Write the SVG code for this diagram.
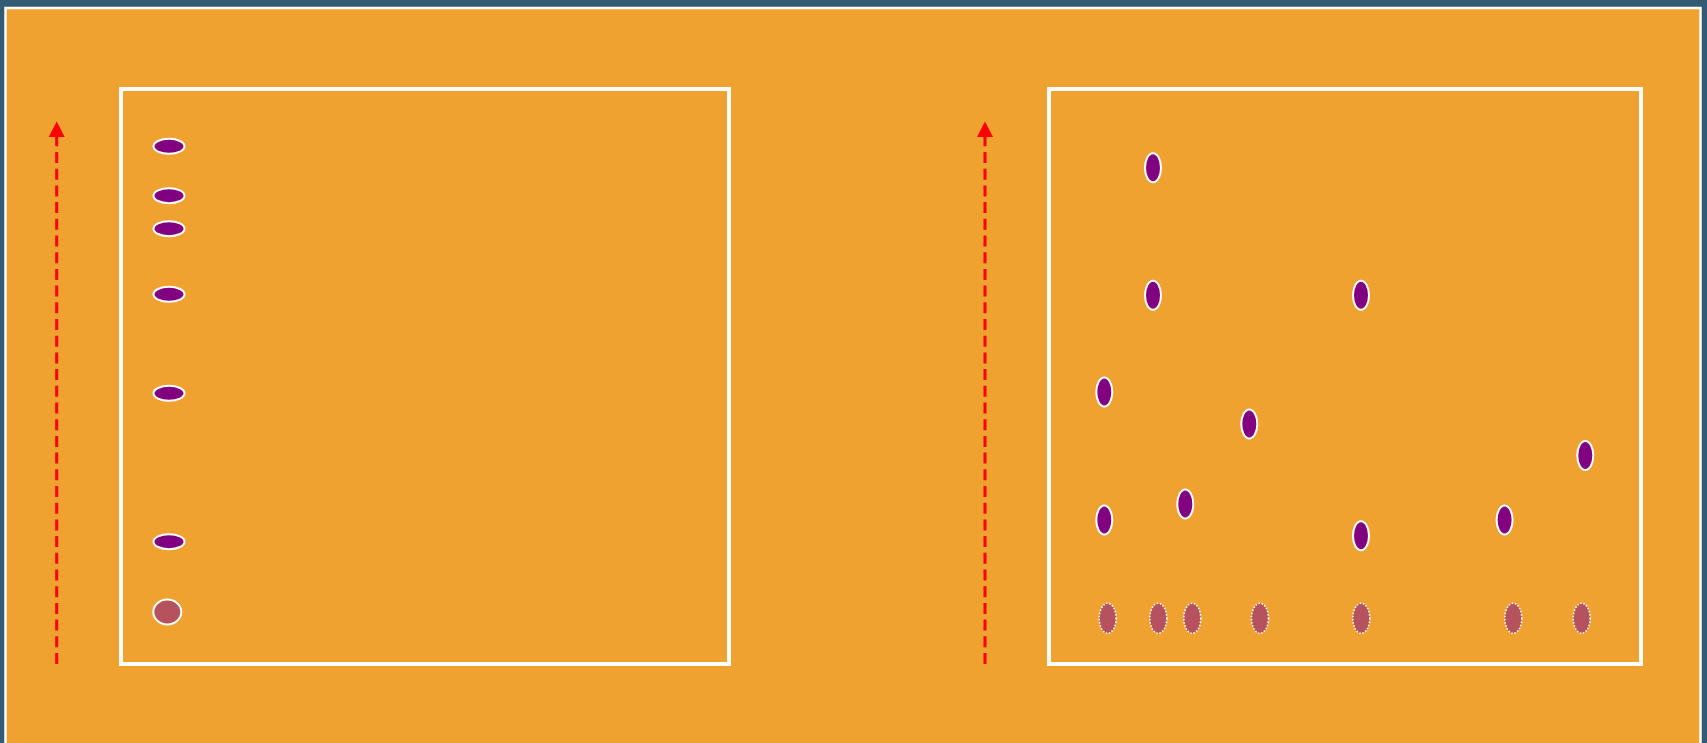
<svg xmlns="http://www.w3.org/2000/svg" width="1707" height="743" viewBox="0 0 1707 743">
  <style>
    .field { fill: none; stroke: #ffffff; stroke-width: 4; }
    .p-h { fill: #800080; stroke: #ffffff; stroke-width: 2; }
    .p-v { fill: #800080; stroke: #ffffff; stroke-width: 2; }
    .ghost { fill: #B5525E; stroke: #ffffff; stroke-width: 1.6; stroke-dasharray: 1.6 1.6; }
    .start { fill: #B5525E; stroke: #ffffff; stroke-width: 2; }
    .dir { fill: none; stroke: #ff0000; stroke-width: 3; stroke-dasharray: 11 5.7; }
  </style>
  <defs>
    <marker id="ah" viewBox="0 0 16 16" refX="8" refY="16" markerWidth="16" markerHeight="16" markerUnits="userSpaceOnUse" orient="auto-start-reverse">
      <path d="M0,16 L8,0 L16,16 Z" fill="#ff0000"/>
    </marker>
  </defs>
  <rect x="0" y="0" width="1707" height="743" fill="#335B74"/>
  <rect x="5.5" y="8" width="1695" height="745" fill="#EFA22F" stroke="#ffffff" stroke-width="2.5"/>

  <g id="field-left"><rect class="field" x="121" y="89" width="608" height="575"/></g>
  <g id="field-right"><rect class="field" x="1049" y="89" width="592" height="575"/></g>

  <g id="connectors">
    <path class="dir" d="M56.7,664 V137"/>
    <path d="M48.7,137 L56.7,121.5 L64.7,137 Z" fill="#ff0000"/>
    <path class="dir" d="M985,664 V137"/>
    <path d="M977,137 L985,121.5 L993,137 Z" fill="#ff0000"/>
  </g>

  <g id="left-players">
    <ellipse id="l1" class="p-h" cx="169" cy="146.3" rx="15.5" ry="7.5"/>
    <ellipse id="l2" class="p-h" cx="169" cy="195.7" rx="15.5" ry="7.5"/>
    <ellipse id="l3" class="p-h" cx="169" cy="228.7" rx="15.5" ry="7.5"/>
    <ellipse id="l4" class="p-h" cx="169" cy="294.3" rx="15.5" ry="7.5"/>
    <ellipse id="l5" class="p-h" cx="169" cy="393.3" rx="15.5" ry="7.5"/>
    <ellipse id="l6" class="p-h" cx="169" cy="541.7" rx="15.5" ry="7.5"/>
    <ellipse id="l7" class="start" cx="167.3" cy="612" rx="14" ry="12.5"/>
  </g>

  <g id="right-players">
    <ellipse id="r1" class="p-v" cx="1153" cy="167.7" rx="8" ry="14.5"/>
    <ellipse id="r2" class="p-v" cx="1153" cy="295.3" rx="8" ry="14.5"/>
    <ellipse id="r3" class="p-v" cx="1361" cy="295.3" rx="8" ry="14.5"/>
    <ellipse id="r4" class="p-v" cx="1104.3" cy="392" rx="8" ry="14.5"/>
    <ellipse id="r5" class="p-v" cx="1249.3" cy="424" rx="8" ry="14.5"/>
    <ellipse id="r6" class="p-v" cx="1585.3" cy="455.5" rx="8" ry="14.5"/>
    <ellipse id="r7" class="p-v" cx="1185.3" cy="504" rx="8" ry="14.5"/>
    <ellipse id="r8" class="p-v" cx="1104.3" cy="520" rx="8" ry="14.5"/>
    <ellipse id="r9" class="p-v" cx="1361" cy="535.7" rx="8" ry="14.5"/>
    <ellipse id="r10" class="p-v" cx="1504.6" cy="520" rx="8" ry="14.5"/>
  </g>

  <g id="right-start">
    <ellipse id="s1" class="ghost" cx="1107.7" cy="618.3" rx="8.5" ry="15"/>
    <ellipse id="s2" class="ghost" cx="1158.3" cy="618.3" rx="8.5" ry="15"/>
    <ellipse id="s3" class="ghost" cx="1192.3" cy="618.3" rx="8.5" ry="15"/>
    <ellipse id="s4" class="ghost" cx="1260" cy="618.3" rx="8.5" ry="15"/>
    <ellipse id="s5" class="ghost" cx="1361.3" cy="618.3" rx="8.5" ry="15"/>
    <ellipse id="s6" class="ghost" cx="1513.3" cy="618.3" rx="8.5" ry="15"/>
    <ellipse id="s7" class="ghost" cx="1581.7" cy="618.3" rx="8.5" ry="15"/>
  </g>
</svg>
